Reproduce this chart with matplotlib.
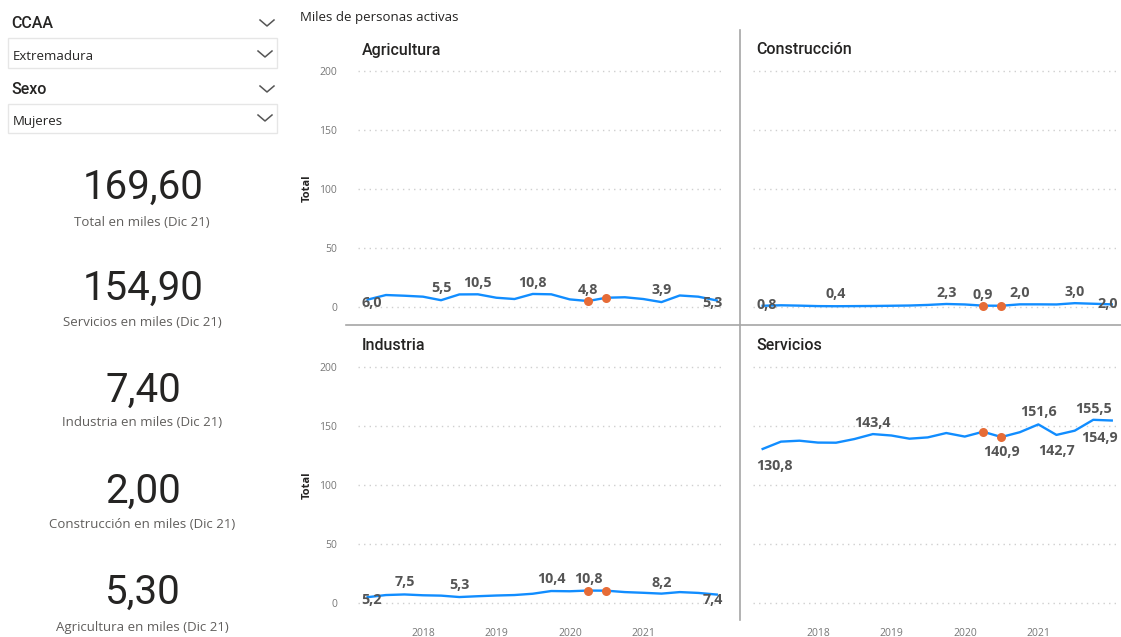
import matplotlib
matplotlib.use("Agg")
import matplotlib.pyplot as plt
import matplotlib.dates as mdates
from matplotlib.lines import Line2D
from matplotlib.patches import Rectangle
import pandas as pd

W, H = 1121, 637

# ── datos trimestrales (miles de personas activas, mujeres, Extremadura) ──
quarters = pd.date_range("2017-03-31", periods=20, freq="QE")
years = [2018, 2019, 2020, 2021]

agricultura = [6.0, 9.9, 9.3, 8.5, 5.5, 10.4, 10.5, 7.6, 6.5, 10.8,
               10.5, 6.2, 4.8, 7.6, 8.0, 6.5, 3.9, 9.5, 8.5, 5.3]
construccion = [0.8, 1.2, 0.9, 0.5, 0.4, 0.5, 0.6, 0.8, 1.0, 1.5,
                2.3, 1.9, 0.9, 0.8, 2.0, 2.0, 1.9, 3.0, 2.5, 2.0]
industria = [5.2, 7.0, 7.5, 6.8, 6.5, 5.3, 6.0, 6.6, 7.0, 8.1,
             10.4, 10.2, 10.8, 10.7, 9.5, 8.9, 8.2, 9.5, 8.8, 7.4]
servicios = [130.8, 137.0, 137.8, 136.2, 136.1, 139.2, 143.4, 142.2, 139.5, 140.6,
             144.3, 141.3, 145.4, 140.9, 145.0, 151.6, 142.7, 146.3, 155.5, 154.9]

# trimestres covid marcados en naranja (T1 y T2 2020)
highlight_idx = [12, 13]

# índices con etiqueta de dato
agri_lbl = [0, 4, 6, 9, 12, 16, 19]
cons_lbl = [0, 4, 10, 12, 14, 17, 19]
ind_lbl = [0, 2, 5, 10, 12, 16, 19]
serv_lbl = [0, 6, 13, 15, 16, 18, 19]

# tarjetas KPI (Dic 21)
kpi_values = [169.60, 154.90, 7.40, 2.00, 5.30]
kpi_labels = ["Total en miles (Dic 21)", "Servicios en miles (Dic 21)",
              "Industria en miles (Dic 21)", "Construcción en miles (Dic 21)",
              "Agricultura en miles (Dic 21)"]

# ── estilo ───────────────────────────────────────────────────────────────
BLUE = "#118DFF"
ORANGE = "#E66C37"
DARK = "#252423"
GREY = "#605E5C"
TICK = "#777777"
SEGOE = ["Open Sans", "DejaVu Sans"]
DIN = ["Roboto", "DejaVu Sans"]

fig = plt.figure(figsize=(W / 100, H / 100), dpi=100)
fig.patch.set_facecolor("white")


def fx(x):
    return x / W


def fy(y):
    return 1 - y / H


def ftext(x, y, s, **kw):
    fig.text(fx(x), fy(y), s, **kw)


def fline(xs, ys, color="#555555", lw=1.2):
    fig.add_artist(Line2D([fx(x) for x in xs], [fy(y) for y in ys],
                          color=color, lw=lw, transform=fig.transFigure))


def chevron(cx, cy, w=7, h=6):
    fline([cx - w, cx, cx + w], [cy - h / 2, cy + h / 2, cy - h / 2], lw=1.1)


# ── slicers ──────────────────────────────────────────────────────────────
ftext(11, 23, "CCAA", fontsize=11.5, color=DARK, family=DIN, fontweight="medium",
      va="center")
chevron(267, 23)
fig.add_artist(Rectangle((fx(8), fy(68)), fx(269), 30 / H, transform=fig.transFigure,
                         facecolor="white", edgecolor="#E6E6E6", lw=1))
ftext(13, 56, "Extremadura", fontsize=9.5, color=DARK, family=SEGOE, va="center")
chevron(265, 54)

ftext(11, 89, "Sexo", fontsize=11.5, color=DARK, family=DIN, fontweight="medium",
      va="center")
chevron(267, 89)
fig.add_artist(Rectangle((fx(8), fy(133)), fx(269), 29 / H, transform=fig.transFigure,
                         facecolor="white", edgecolor="#E6E6E6", lw=1))
ftext(13, 121, "Mujeres", fontsize=9.5, color=DARK, family=SEGOE, va="center")
chevron(265, 118)

# ── tarjetas ─────────────────────────────────────────────────────────────
num_y = [187, 288, 390, 491, 592]
sub_y = [223, 322, 423, 525, 627]
for v, lab, ny, sy in zip(kpi_values, kpi_labels, num_y, sub_y):
    ftext(143, ny, f"{v:.2f}".replace(".", ","), fontsize=29, color=DARK,
          family=DIN, ha="center", va="center")
    ftext(142, sy, lab, fontsize=9.5, color=GREY, family=SEGOE,
          ha="center", va="center")

# ── múltiplos pequeños ───────────────────────────────────────────────────
ftext(300, 18, "Miles de personas activas", fontsize=9.5, color=DARK,
      family=SEGOE, va="center")

# divisores
fline([740, 740], [30, 620], color="#A6A6A6", lw=1.2)
fline([346, 1121], [325, 325], color="#A6A6A6", lw=1.2)

PX_UNIT = 1.18
xlim = (quarters[0] - pd.Timedelta(days=48), quarters[-1] + pd.Timedelta(days=41))
year_ticks = [pd.Timestamp(f"{y}-01-01") for y in years]

panels = [
    ("Agricultura", agricultura, agri_lbl, [-3, 12, 11, 11, 11, 12, -3], 358, 306.7, True, False),
    ("Construcción", construccion, cons_lbl, [1, 12, 11, 11, 11, 11, 0], 753, 306.7, False, False),
    ("Industria", industria, ind_lbl, [-3, 12, 12, 12, 12, 11, -5], 358, 603.3, True, True),
    ("Servicios", servicios, serv_lbl, [-17, 11, -15, 12, -16, 11, -17], 753, 603.3, False, True),
]

for title, values, lbl_idx, lbl_dy, x0, y0, show_y, show_x in panels:
    ybot = y0 + 10 * PX_UNIT
    ytop = y0 - 210 * PX_UNIT
    ax = fig.add_axes([fx(x0), fy(ybot), 367 / W, (ybot - ytop) / H])
    ax.set_xlim(*xlim)
    ax.set_ylim(-10, 210)
    ax.set_yticks([0, 50, 100, 150, 200])
    ax.set_xticks(year_ticks)
    ax.xaxis.set_major_formatter(mdates.DateFormatter("%Y"))
    ax.grid(axis="y", color="#CFCFCF", lw=1, linestyle=(0, (1, 3)))
    ax.set_axisbelow(True)
    for s in ax.spines.values():
        s.set_visible(False)
    ax.tick_params(length=0, labelsize=7.5, labelcolor=TICK)
    ax.tick_params(axis="y", pad=15)
    ax.tick_params(axis="x", pad=9)
    if not show_y:
        ax.set_yticklabels([])
    if not show_x:
        ax.set_xticklabels([])
    for t in ax.get_yticklabels() + ax.get_xticklabels():
        t.set_family(SEGOE)

    ax.plot(quarters, values, color=BLUE, lw=1.7, zorder=3, clip_on=False)
    ax.plot(quarters[highlight_idx], [values[i] for i in highlight_idx], "o",
            color=ORANGE, ms=6.5, mec="none", zorder=4, clip_on=False)

    for i, dy in zip(lbl_idx, lbl_dy):
        if i == 0:
            ha, dx = "left", -6
        elif i == len(values) - 1:
            ha, dx = "right", 6
        else:
            ha, dx = "center", 0
        ax.annotate(f"{values[i]:.1f}".replace(".", ","), (quarters[i], values[i]),
                    xytext=(dx, dy), textcoords="offset pixels", ha=ha, va="center",
                    fontsize=10.3, fontweight="bold", color="#555555",
                    family=SEGOE, zorder=5, annotation_clip=False)

    tx = 362 if x0 < 700 else 756
    ty = 50 if y0 < 400 else 346
    ftext(tx, ty, title, fontsize=11.5, color=DARK, family=DIN, fontweight="medium",
          va="center")
    if show_y:
        ftext(307, (y0 + y0 - 200 * PX_UNIT) / 2, "Total", fontsize=8, color=DARK,
              family=SEGOE, fontweight="bold", rotation=90, ha="center", va="center")

fig.savefig("out.png", dpi=100)
